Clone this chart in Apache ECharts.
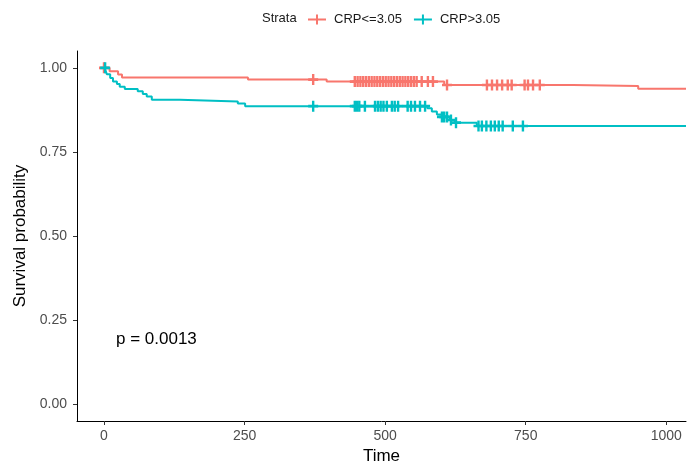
<!DOCTYPE html>
<html>
<head>
<meta charset="utf-8">
<script src="https://cdn.jsdelivr.net/npm/echarts@6/dist/echarts.min.js"></script>
<style>
html,body{margin:0;padding:0;background:#fff;}
#chart{width:695px;height:462px;}
</style>
</head>
<body>
<div id="chart"></div>
<script>
// ---- data ----
const groupNames = ['CRP<=3.05', 'CRP>3.05'];
const groupColors = ['#F8766D', '#00BFC4'];

const redTimes = [0, 10, 25, 32, 256, 396, 605, 834, 950, 1035];
const redSurv  = [1.0, 0.990, 0.980, 0.971, 0.965, 0.959, 0.949, 0.946, 0.9375, 0.9375];
const redCensor = [0, 372, 446, 451, 456, 461, 466, 471, 476, 481, 486, 491, 496, 501, 506, 511, 516, 521, 526, 531, 536, 541, 546, 551, 556,
  565, 576, 585, 610, 681, 690, 699, 708, 718, 725, 748, 754, 763, 775];

const cyanTimes = [0, 3, 5, 11, 16, 23, 28, 37, 60, 69, 76, 85, 135, 238, 251, 575, 583, 592, 601, 615, 624, 663, 1035];
const cyanSurv  = [1.0, 0.990, 0.981, 0.970, 0.959, 0.952, 0.944, 0.937, 0.930, 0.922, 0.915, 0.905, 0.900, 0.894, 0.886,
  0.880, 0.870, 0.861, 0.854, 0.845, 0.837, 0.827, 0.827];
const cyanCensor = [2, 372, 446, 450, 454, 464, 482, 487, 492, 497, 503, 512, 517, 523, 540, 546, 553, 562, 571,
  601, 605, 610, 617, 626, 666, 672, 680, 688, 695, 702, 709, 727, 745];

const xTicks = [0, 250, 500, 750, 1000];
const yTicks = [0, 0.25, 0.5, 0.75, 1.0];
const pText = 'p = 0.0013';

// ---- helpers ----
function stepValue(times, surv, t) {
  let v = surv[0];
  for (let i = 0; i < times.length; i++) { if (times[i] <= t) v = surv[i]; }
  return v;
}
const plusPath = 'path://M0,3.8H10V6.2H0Z M3.8,0H6.2V10H3.8Z';
const legendPath = 'path://M0,4H18V6H0Z M8,0H10V10H8Z';
const font = 'Liberation Sans, Arial, Helvetica, sans-serif';

const groups = [
  {times: redTimes, surv: redSurv, censor: redCensor},
  {times: cyanTimes, surv: cyanSurv, censor: cyanCensor}
];

const series = [];
groups.forEach((g, i) => {
  series.push({
    name: groupNames[i], type: 'line', step: 'end', showSymbol: false, symbol: 'none',
    data: g.times.map((t, k) => [t, g.surv[k]]),
    lineStyle: {color: groupColors[i], width: 2}, itemStyle: {color: groupColors[i]},
    z: 2 + i, silent: true, animation: false
  });
});
groups.forEach((g, i) => {
  series.push({
    name: groupNames[i] + ' censor', type: 'scatter', symbol: plusPath, symbolSize: [10, 11],
    symbolKeepAspect: false,
    data: g.censor.map(t => [t, stepValue(g.times, g.surv, t)]),
    itemStyle: {color: groupColors[i], opacity: 1}, z: 4 + i, silent: true, animation: false
  });
});

const chart = echarts.init(document.getElementById('chart'), null, {renderer: 'canvas'});
chart.setOption({
  animation: false,
  backgroundColor: '#fff',
  textStyle: {fontFamily: font},
  grid: {left: 77, right: 9, top: 51, bottom: 41, containLabel: false, outerBoundsMode: 'none'},
  legend: {
    data: groupNames, left: 303, top: 8, icon: legendPath, itemWidth: 18, itemHeight: 10, itemGap: 12,
    textStyle: {fontSize: 13, color: '#1a1a1a', fontFamily: font, padding: [0, 0, 0, 3]}
  },
  graphic: [
    {type: 'text', left: 262, top: 12, style: {text: 'Strata', fontSize: 13, fill: '#1a1a1a', fontFamily: font}},
    {type: 'text', left: 116, top: 331, style: {text: pText, fontSize: 17, fill: '#000', fontFamily: font}}
  ],
  xAxis: {
    type: 'value', min: -48, max: 1035,
    name: 'Time', nameLocation: 'middle', nameGap: 25,
    nameTextStyle: {fontSize: 17, color: '#000', fontFamily: font},
    axisLine: {show: true, onZero: false, lineStyle: {color: '#000', width: 1}},
    axisTick: {show: true, length: 4, lineStyle: {color: '#333'}, customValues: xTicks},
    axisLabel: {fontSize: 14, color: '#4D4D4D', margin: 8, customValues: xTicks, formatter: v => String(v)},
    splitLine: {show: false}
  },
  yAxis: {
    type: 'value', min: -0.05, max: 1.05,
    name: 'Survival probability', nameLocation: 'middle', nameGap: 45, nameRotate: 90,
    nameTextStyle: {fontSize: 17, color: '#000', fontFamily: font},
    axisLine: {show: true, onZero: false, lineStyle: {color: '#000', width: 1}},
    axisTick: {show: true, length: 4, lineStyle: {color: '#333'}, customValues: yTicks},
    axisLabel: {fontSize: 14, color: '#4D4D4D', margin: 10, customValues: yTicks, formatter: v => v.toFixed(2)},
    splitLine: {show: false}
  },
  series: series
});
</script>
</body>
</html>
